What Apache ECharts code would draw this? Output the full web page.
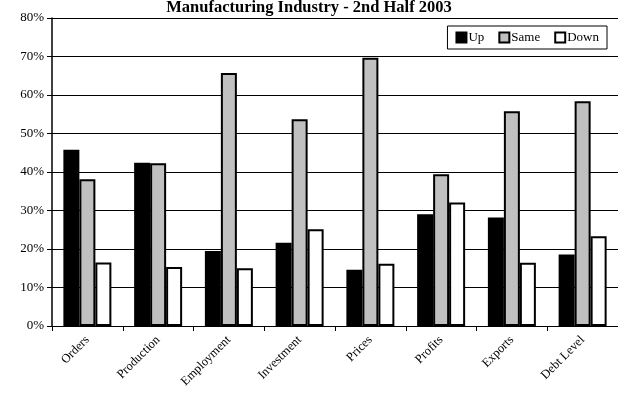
<!DOCTYPE html>
<html>
<head>
<meta charset="utf-8">
<script src="https://cdn.jsdelivr.net/npm/echarts@6/dist/echarts.min.js"></script>
<style>
  html, body { margin: 0; padding: 0; background: #fff; }
  #chart { width: 618px; height: 400px; }
</style>
</head>
<body>
<div id="chart"></div>
<script>
// Survey results: share of firms reporting each direction of change
const categories = ['Orders', 'Production', 'Employment', 'Investment', 'Prices', 'Profits', 'Exports', 'Debt Level'];
const upValues   = [45.8, 42.4, 19.5, 21.6, 14.6, 29.0, 28.2, 18.6];
const sameValues = [38.1, 42.3, 65.7, 53.7, 69.7, 39.4, 55.8, 58.4];
const downValues = [16.5, 15.3, 15.0, 25.1, 16.2, 32.1, 16.4, 23.3];
const yTicks = { min: 0, max: 80, interval: 10 };

const serif = '"Liberation Serif", "DejaVu Serif", serif';
const chart = echarts.init(document.getElementById('chart'), null, { renderer: 'canvas' });

function barSeries(name, data, color) {
  return {
    name: name,
    type: 'bar',
    data: data,
    barWidth: 16,
    barGap: '0%',
    itemStyle: { color: color, borderColor: '#000', borderWidth: 2 },
    emphasis: { disabled: true }
  };
}

chart.setOption({
  animation: false,
  title: {
    text: 'Manufacturing Industry - 2nd Half 2003',
    left: 'center',
    top: -6,
    textStyle: { fontFamily: serif, fontSize: 16.5, fontWeight: 'bold', color: '#000' }
  },
  legend: {
    right: 11,
    top: 26,
    orient: 'horizontal',
    icon: 'rect',
    itemWidth: 10,
    itemHeight: 10,
    itemGap: 14,
    padding: [5, 8, 5, 8],
    borderColor: '#000',
    borderWidth: 1,
    backgroundColor: '#fff',
    textStyle: { fontFamily: serif, fontSize: 13, color: '#000', padding: [0, 0, 0, -3] },
    data: ['Up', 'Same', 'Down']
  },
  grid: { left: 52, right: -2, top: 18, bottom: 74, containLabel: false },
  xAxis: {
    type: 'category',
    data: categories,
    axisLine: { lineStyle: { color: '#000', width: 1 } },
    axisTick: { show: true, length: 5, lineStyle: { color: '#000' } },
    axisLabel: { rotate: 45, margin: 12, fontFamily: serif, fontSize: 12.5, color: '#000', interval: 0 }
  },
  yAxis: {
    type: 'value',
    min: yTicks.min,
    max: yTicks.max,
    interval: yTicks.interval,
    axisLine: { show: true, lineStyle: { color: '#000', width: 1.5 } },
    axisTick: { show: true, length: 5, lineStyle: { color: '#000' } },
    axisLabel: { formatter: '{value}%', fontFamily: serif, fontSize: 13, color: '#000', margin: 8 },
    splitLine: { lineStyle: { color: '#000', width: 1 } }
  },
  series: [
    barSeries('Up', upValues, '#000000'),
    barSeries('Same', sameValues, '#c0c0c0'),
    barSeries('Down', downValues, '#ffffff')
  ]
});
</script>
</body>
</html>
